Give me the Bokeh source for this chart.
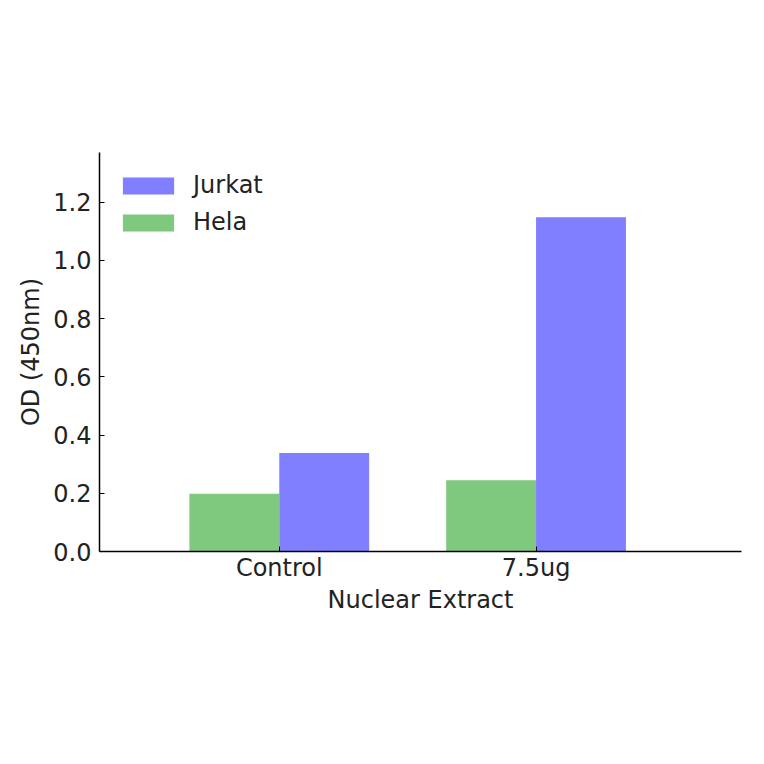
from bokeh.plotting import figure
from bokeh.models import ColumnDataSource, Range1d, FixedTicker, Legend, LegendItem, PrintfTickFormatter
from bokeh.transform import dodge
from bokeh.embed import file_html
from bokeh.resources import INLINE

categories = ["Control", "7.5ug"]
hela = [0.198, 0.245]
jurkat = [0.338, 1.148]
y_ticks = [0.0, 0.2, 0.4, 0.6, 0.8, 1.0, 1.2]

FONT = "DejaVu Sans"
TXT = "#222222"

idx = list(range(len(categories)))
src = ColumnDataSource(dict(idx=idx, hela=hela, jurkat=jurkat))

p = figure(frame_width=642, frame_height=399,
           min_border_left=99, min_border_top=152, min_border_right=7, min_border_bottom=197,
           x_range=Range1d(-0.7, 1.8), y_range=Range1d(0, 1.37),
           output_backend="svg", toolbar_location=None)
p.outline_line_color = None
p.xgrid.visible = False
p.ygrid.visible = False
p.background_fill_color = "white"

w = 0.35
r_h = p.vbar(x=dodge("idx", -w / 2), top="hela", width=w, source=src,
             fill_color="#7fc97f", line_color=None)
r_j = p.vbar(x=dodge("idx", w / 2), top="jurkat", width=w, source=src,
             fill_color="#7f7fff", line_color=None)

p.xaxis.ticker = FixedTicker(ticks=idx)
p.xaxis.major_label_overrides = {i: c for i, c in zip(idx, categories)}
p.yaxis.ticker = FixedTicker(ticks=y_ticks)
p.yaxis.formatter = PrintfTickFormatter(format="%.1f")

p.xaxis.axis_label = "Nuclear Extract"
p.yaxis.axis_label = "OD (450nm)"

for ax in (p.xaxis[0], p.yaxis[0]):
    ax.axis_line_color = "black"
    ax.axis_line_width = 1.5
    ax.major_tick_in = 5
    ax.major_tick_out = 0
    ax.major_tick_line_color = "black"
    ax.minor_tick_line_color = None
    ax.major_label_text_font = FONT
    ax.major_label_text_font_size = "24px"
    ax.major_label_text_color = TXT
    ax.axis_label_text_font = FONT
    ax.axis_label_text_font_size = "24px"
    ax.axis_label_text_font_style = "normal"
    ax.axis_label_text_color = TXT

p.xaxis.major_label_standoff = 2
p.xaxis.axis_label_standoff = 1
p.yaxis.major_label_standoff = 8
p.yaxis.axis_label_standoff = 5

legend = Legend(items=[LegendItem(label="Jurkat", renderers=[r_j]),
                       LegendItem(label="Hela", renderers=[r_h])],
                location=(17, 315))
legend.border_line_color = None
legend.background_fill_alpha = 0
legend.margin = 0
legend.padding = 0
legend.glyph_width = 64
legend.glyph_height = 21
legend.label_standoff = 13
legend.label_text_font = FONT
legend.label_text_font_size = "24px"
legend.label_text_color = TXT
legend.label_height = 20
legend.spacing = 9
p.add_layout(legend)

open("out.html", "w").write(file_html(p, INLINE))
